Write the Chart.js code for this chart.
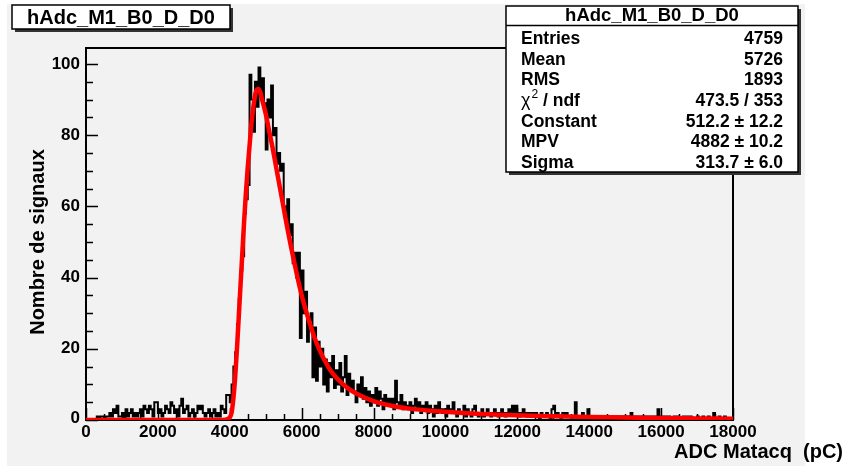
<!DOCTYPE html>
<html>
<head>
<meta charset="utf-8">
<title>hAdc_M1_B0_D_D0</title>
<script src="https://cdn.jsdelivr.net/npm/chart.js@4.4.0/dist/chart.umd.min.js"></script>
<style>
  body { margin: 0; background: #ffffff; }
  canvas { display: block; }
</style>
</head>
<body>
<canvas id="myChart" width="848" height="466"></canvas>
<script>
// Histogram: 360 bins of 50 pC from 0 to 18000
const binWidth = 50;
const counts = [
  0,0,0,0,0,0,0,1,0,1,        1,0,1,1,2,1,3,2,4,1,
  1,2,0,3,1,2,3,1,2,1,        2,3,1,4,3,2,4,3,1,5,
  5,2,3,1,2,4,3,2,5,4,        2,3,1,4,6,2,3,4,1,2,
  3,1,2,4,3,4,2,1,2,3,        1,2,3,1,2,1,4,3,2,7,
  7,5,10,15,19,27,34,42,46,58,
  62,66,97,90,81,95,88,99,91,96,
  89,76,90,85,94,80,82,72,75,70,
  72,60,56,62,52,55,44,47,40,47,
  23,42,30,36,22,28,30,12,26,11,
  22,15,20,10,17,8,16,12,18,9,
  14,10,16,8,12,18,7,13,9,11,
  8,5,10,7,12,6,9,5,8,4,      7,5,9,4,8,6,3,7,5,6,
  4,6,3,11,5,4,7,3,5,4,       3,5,2,4,6,3,5,2,4,3,
  5,2,4,3,1,4,2,5,3,2,        3,1,4,2,3,5,2,1,3,2,
  2,4,1,3,2,1,3,4,2,1,        2,3,1,2,3,2,1,2,3,2,
  1,2,3,2,1,2,3,2,4,2,        4,2,1,2,3,2,1,2,1,2,
  1,2,1,0,2,1,1,2,1,0,        3,4,1,2,1,0,2,1,2,1,
  1,0,1,5,1,0,1,2,0,1,        3,1,1,0,1,1,0,1,0,1,
  1,0,1,1,0,1,0,1,1,0,        1,0,1,0,2,0,1,1,0,1,
  0,1,1,0,1,0,1,0,1,3,        1,0,1,1,0,1,0,0,1,0,
  1,0,0,1,0,1,0,1,0,0,        0,1,0,0,1,0,0,1,0,0,
  2,0,0,1,0,0,1,0,0,0
];

// Landau fit
const fitX = [0,1000,2000,3000,3800,3950,4050,4100,4150,4200,4250,4300,4350,4400,4450,4500,
  4550,4600,4650,4700,4750,4800,4850,4900,5000,5100,5200,5300,5400,5500,5600,5800,6000,
  6200,6400,6600,6800,7000,7300,7600,8000,8500,9000,9500,10000,11000,12000,13000,14000,
  15000,16000,17000,18000];
const fitY = [0,0,0,0,0,0.3,2,6,12,20,29,38,47,56,64,71,
  77,83,87.5,91,92.8,93,92,90,86,81,76,70.5,65,59.5,54,44,35,
  28,22,17.5,14,11.5,8.8,7,5.3,4,3.2,2.7,2.3,1.7,1.3,1.05,0.85,
  0.7,0.55,0.45,0.35];

// Axis ticks
const xTicks = [0,2000,4000,6000,8000,10000,12000,14000,16000,18000];
const yTicks = [0,20,40,60,80,100];
const xMinorStep = 500;
const yMinorStep = 5;

// Stats box
const histName = 'hAdc_M1_B0_D_D0';
const statLabels = ['Entries','Mean','RMS','chi2','Constant','MPV','Sigma'];
const statValues = ['4759','5726','1893','473.5 / 353','512.2 \u00b1 12.2','4882 \u00b1 10.2','313.7 \u00b1 6.0'];

const xTitle = 'ADC Matacq  (pC)';
const yTitle = 'Nombre de signaux';

const FONT = "'Liberation Sans', Arial, Helvetica, sans-serif";

// step points for the histogram outline
const histPoints = counts.map((c, i) => ({x: i * binWidth, y: c}));
histPoints.push({x: counts.length * binWidth, y: counts[counts.length - 1]});

const fitPoints = fitX.map((x, i) => ({x: x, y: fitY[i]}));

// drop-shadow box like ROOT's TPave
function paveBox(ctx, x, y, w, h) {
    ctx.fillStyle = '#333333';
    ctx.fillRect(x + 3, y + 3, w, h);
    ctx.fillStyle = '#ffffff';
    ctx.fillRect(x, y, w, h);
    ctx.strokeStyle = '#000000';
    ctx.lineWidth = 1.5;
    ctx.strokeRect(x, y, w, h);
}

const rootStyle = {
    id: 'rootStyle',
    beforeDraw(chart) {
        const ctx = chart.ctx;
        ctx.save();
        ctx.fillStyle = '#ffffff';
        ctx.fillRect(0, 0, chart.width, chart.height);
        ctx.fillStyle = '#f2f2f2';
        ctx.fillRect(7, 4, 798, chart.height - 4);
        ctx.restore();
    },
    beforeDatasetsDraw(chart) {
        const ctx = chart.ctx;
        const a = chart.chartArea;
        const xs = chart.scales.x, ys = chart.scales.y;
        ctx.save();
        ctx.strokeStyle = '#000000';
        ctx.lineWidth = 1.5;
        ctx.beginPath();
        // minor + major ticks on x, pointing into the frame
        for (let v = xs.min; v <= xs.max; v += xMinorStep) {
            const px = Math.round(xs.getPixelForValue(v)) + 0.5;
            const len = xTicks.includes(v) ? 12 : 6;
            ctx.moveTo(px, a.bottom);
            ctx.lineTo(px, a.bottom - len);
        }
        for (let v = 0; v <= ys.max; v += yMinorStep) {
            const py = Math.round(ys.getPixelForValue(v)) + 0.5;
            const len = yTicks.includes(v) ? 12 : 7;
            ctx.moveTo(a.left, py);
            ctx.lineTo(a.left + len, py);
        }
        ctx.stroke();
        ctx.lineWidth = 2;
        ctx.strokeRect(a.left, a.top, a.right - a.left, a.bottom - a.top);
        ctx.restore();
    },
    afterDraw(chart) {
        const ctx = chart.ctx;
        const a = chart.chartArea;
        const xs = chart.scales.x, ys = chart.scales.y;
        ctx.save();
        ctx.fillStyle = '#000000';

        // tick labels
        ctx.font = 'bold 17px ' + FONT;
        ctx.textAlign = 'center';
        ctx.textBaseline = 'middle';
        xTicks.forEach(v => {
            ctx.fillText(String(v), xs.getPixelForValue(v), a.bottom + 12);
        });
        ctx.textAlign = 'right';
        yTicks.forEach(v => {
            const py = ys.getPixelForValue(v);
            ctx.fillText(String(v), a.left - 6, v === 0 ? py - 2 : py);
        });

        // axis titles
        ctx.font = 'bold 20px ' + FONT;
        ctx.textAlign = 'right';
        ctx.fillText(xTitle, 843, 452);
        ctx.save();
        ctx.translate(38, (a.top + a.bottom) / 2 + 8);
        ctx.rotate(-Math.PI / 2);
        ctx.textAlign = 'center';
        ctx.fillText(yTitle, 0, 0);
        ctx.restore();

        // title pave
        paveBox(ctx, 12, 5, 218, 24);
        ctx.fillStyle = '#000000';
        ctx.font = 'bold 20px ' + FONT;
        ctx.textAlign = 'center';
        ctx.fillText(histName, 121, 18);

        // stats pave
        const sx = 506, sy = 6, sw = 292, sh = 166;
        paveBox(ctx, sx, sy, sw, sh);
        ctx.beginPath();
        ctx.moveTo(sx, 25.5);
        ctx.lineTo(sx + sw, 25.5);
        ctx.stroke();
        ctx.fillStyle = '#000000';
        ctx.font = 'bold 18.5px ' + FONT;
        ctx.textAlign = 'center';
        ctx.fillText(histName, sx + sw / 2, 16);

        statLabels.forEach((lab, i) => {
            const ry = 39 + i * 20.7;
            ctx.font = 'bold 17.5px ' + FONT;
            ctx.textAlign = 'left';
            if (lab === 'chi2') {
                ctx.font = '18px ' + FONT;
                ctx.fillText('\u03c7', 521, ry);
                let w = ctx.measureText('\u03c7').width;
                ctx.font = '12px ' + FONT;
                ctx.fillText('2', 521 + w + 1, ry - 6);
                w += ctx.measureText('2').width + 1;
                ctx.font = 'bold 17.5px ' + FONT;
                ctx.fillText(' / ndf', 521 + w, ry);
            } else {
                ctx.fillText(lab, 521, ry);
            }
            ctx.textAlign = 'right';
            ctx.fillText(statValues[i], 783, ry);
        });
        ctx.restore();
    }
};

const config = {
    type: 'line',
    data: {
        datasets: [{
            label: 'fit',
            data: fitPoints,
            borderColor: '#ff0000',
            borderWidth: 4.5,
            pointRadius: 0,
            fill: false,
            cubicInterpolationMode: 'monotone',
            order: 0
        }, {
            label: histName,
            data: histPoints,
            borderColor: '#000000',
            borderWidth: 2,
            pointRadius: 0,
            fill: false,
            stepped: 'after',
            order: 1
        }]
    },
    options: {
        responsive: false,
        animation: false,
        devicePixelRatio: 1,
        layout: { padding: { left: 86, right: 115, top: 48, bottom: 46 } },
        scales: {
            x: { type: 'linear', min: 0, max: 18000, display: false },
            y: { type: 'linear', min: 0, max: 104.5, display: false }
        },
        plugins: {
            legend: { display: false },
            tooltip: { enabled: false }
        }
    },
    plugins: [rootStyle]
};

//Render
const myChart = new Chart(document.getElementById('myChart'), config);
</script>
</body>
</html>
